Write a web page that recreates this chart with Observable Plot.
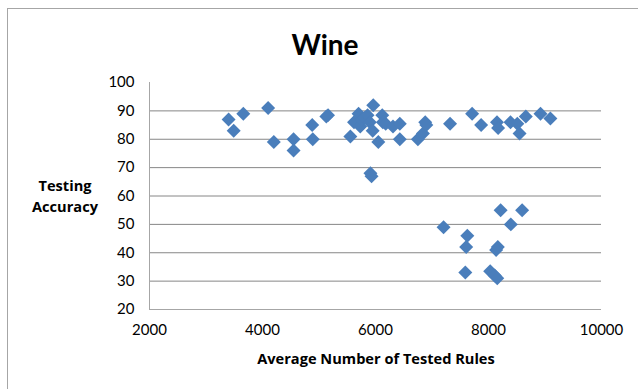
<!DOCTYPE html>
<html>
<head>
<meta charset="utf-8">
<script src="https://cdn.jsdelivr.net/npm/d3@7"></script>
<script src="https://cdn.jsdelivr.net/npm/@observablehq/plot@0.6"></script>
<style>
  html, body { margin: 0; padding: 0; background: #fff; }
  #wrap { position: relative; width: 638px; height: 389px; overflow: hidden; background: #fff; font-family: Lato, "Open Sans", sans-serif; }
  #border { position: absolute; left: 7px; top: 8px; width: 660px; height: 400px; border: 1px solid #a6a6a6; box-sizing: border-box; }
  .lbl { position: absolute; transform: translate(-50%, -50%); white-space: nowrap; color: #000; text-align: center; }
  .axl { font-family: "Open Sans", Lato, sans-serif; font-size: 14.6px; font-weight: bold; }
</style>
</head>
<body>
<div id="wrap">
  <div id="border"></div>
  <div id="chart"></div>
  <div class="lbl" style="left:325px; top:44px; font-size:28px; font-weight:bold;">Wine</div>
  <div class="lbl axl" style="left:65px; top:196px; line-height:21px;">Testing<br>Accuracy</div>
  <div class="lbl axl" style="left:376px; top:358px;">Average Number of Tested Rules</div>
</div>
<script>
const testedRules = [3400, 3490, 3660, 4100, 4200, 4550, 4550, 4880, 4890, 5130, 5160, 5555, 5620, 5700, 5730, 5760, 5810, 5860, 5900, 5960, 5950, 5910, 5930, 6050, 6120, 6130, 6180, 6310, 6430, 6430, 6750, 6840, 6880, 6900, 7320, 7710, 7870, 8150, 8170, 8390, 8510, 8550, 8660, 8920, 9095,
  7205, 7625, 7605, 7590, 8030, 8110, 8155, 8165, 8135, 8215, 8395, 8595];
const testingAccuracy = [87, 83, 89, 91, 79, 80, 76, 85, 80, 88, 88.5, 81, 86, 89, 84.5, 87, 87.5, 88.5, 86, 92, 83, 68, 67, 79, 88.5, 86, 85.5, 84.5, 85.5, 80, 80, 82, 86, 85, 85.5, 89, 85, 86, 84, 86, 85.5, 82, 88, 89, 87.3,
  49, 46, 42, 33, 33.5, 32, 31, 42, 41, 55, 50, 55];
const xTicks = [2000, 4000, 6000, 8000, 10000];
const yTicks = [20, 30, 40, 50, 60, 70, 80, 90, 100];
const gridLines = [30, 40, 50, 60, 70, 80, 90];

const points = testedRules.map((x, i) => ({x, y: testingAccuracy[i]}));

const chart = Plot.plot({
  width: 638,
  height: 389,
  marginLeft: 149,
  marginRight: 37,
  marginTop: 82,
  marginBottom: 80,
  x: {domain: [2000, 10000]},
  y: {domain: [20, 100]},
  style: {fontFamily: "Lato, 'Open Sans', sans-serif", fontSize: "15px", color: "#000", background: "transparent", overflow: "visible"},
  marks: [
    Plot.ruleY(gridLines, {stroke: "#868686", strokeWidth: 1}),
    Plot.ruleX([2000], {stroke: "#a6a6a6", strokeWidth: 1}),
    Plot.ruleY([20], {stroke: "#a6a6a6", strokeWidth: 1}),
    Plot.axisX({ticks: xTicks, tickSize: 0, tickPadding: 15, label: null, tickFormat: d3.format("d"), fontSize: 15}),
    Plot.axisY({ticks: yTicks, tickSize: 0, tickPadding: 15, label: null, tickFormat: d3.format("d"), fontSize: 15}),
    Plot.dot(points, {x: "x", y: "y", symbol: "diamond2", r: 6.3, fill: "#4A7EBB", stroke: "none"})
  ]
});
document.getElementById("chart").appendChild(chart);
chart.style.position = "absolute";
chart.style.left = "0px";
chart.style.top = "0px";
</script>
</body>
</html>
